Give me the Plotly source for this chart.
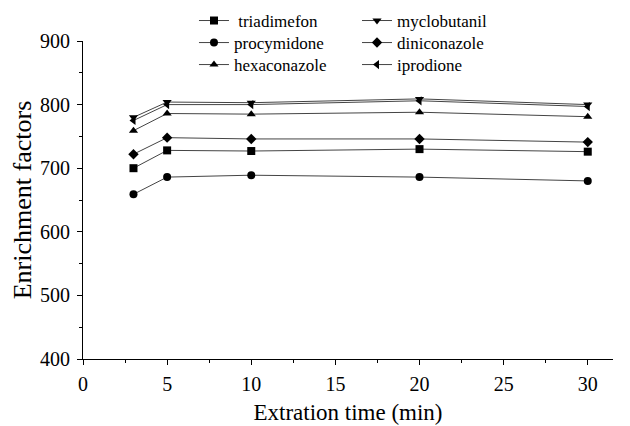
import plotly.graph_objects as go

time_min = [3, 5, 10, 20, 30]
triadimefon = [700, 728, 727, 730, 726]
myclobutanil = [780, 804, 803, 809, 800]
procymidone = [659, 686, 689, 686, 680]
diniconazole = [722, 748, 746, 746, 741]
hexaconazole = [759, 786, 785, 788, 781]
iprodione = [775, 800, 800, 806, 797]

# name, values, symbol, legend id, legend column x, legend row y
series = [
    ("\u00a0triadimefon", triadimefon, "square", "legend2", 0.2094, 1.063),
    ("procymidone", procymidone, "circle", "legend3", 0.2094, 0.9937),
    ("hexaconazole", hexaconazole, "triangle-up", "legend4", 0.2094, 0.9245),
    ("myclobutanil", myclobutanil, "triangle-down", "legend5", 0.517, 1.063),
    ("diniconazole", diniconazole, "diamond", "legend6", 0.517, 0.9937),
    ("iprodione", iprodione, "triangle-left", "legend7", 0.517, 0.9245),
]

FAM = "Liberation Serif"

fig = go.Figure()
legends = {}
for name, vals, sym, lg, lx, ly in series:
    fig.add_trace(go.Scatter(
        x=time_min, y=vals, name=name, mode="lines+markers",
        line=dict(color="#444444", width=1),
        marker=dict(symbol=sym, size=8, color="black"),
        legend=lg,
    ))
    legends[lg] = dict(x=lx, y=ly, xanchor="left", yanchor="middle",
                       bgcolor="rgba(0,0,0,0)",
                       font=dict(family=FAM, size=17, color="black"),
                       itemwidth=30)

fig.update_layout(
    width=630, height=426,
    margin=dict(l=75, r=25, t=33, b=75, autoexpand=False),
    plot_bgcolor="white", paper_bgcolor="white",
    font=dict(family=FAM, size=17, color="black"),
    **legends,
    xaxis=dict(
        range=[0, 31.5], tickmode="linear", tick0=0, dtick=5,
        showline=True, linecolor="black", linewidth=1,
        ticks="outside", ticklen=5, tickcolor="black",
        minor=dict(dtick=2.5, ticks="outside", ticklen=3, tickcolor="black"),
        showgrid=False, zeroline=False, automargin=False,
        ticklabelstandoff=2,
        tickfont=dict(family=FAM, size=20, color="black"),
        title=dict(text="Extration time (min)", font=dict(family=FAM, size=23, color="black"), standoff=9),
    ),
    yaxis=dict(
        range=[400, 900], tickmode="linear", tick0=400, dtick=100,
        showline=True, linecolor="black", linewidth=1,
        ticks="outside", ticklen=5, tickcolor="black",
        minor=dict(dtick=50, ticks="outside", ticklen=3, tickcolor="black"),
        showgrid=False, zeroline=False, automargin=False,
        ticklabelstandoff=3,
        tickfont=dict(family=FAM, size=20, color="black"),
        title=dict(text="Enrichment factors", font=dict(family=FAM, size=26, color="black"), standoff=14),
    ),
)

fig.write_html("out.html")
